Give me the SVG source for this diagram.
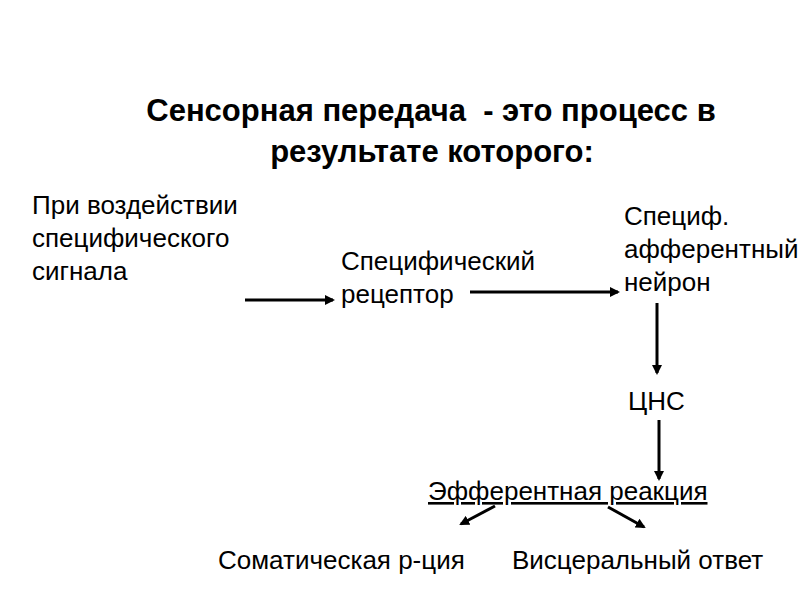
<svg xmlns="http://www.w3.org/2000/svg" width="800" height="600" viewBox="0 0 800 600">
<defs>
<style>
text{font-family:"Liberation Sans",Arial,sans-serif;fill:#000}
.t{font-size:31px;font-weight:bold}
.n{font-size:26px}
.c{stroke:#000;stroke-width:3;fill:none}
</style>
<marker id="ah" markerWidth="10" markerHeight="10" refX="8" refY="5" orient="auto" markerUnits="userSpaceOnUse">
<path d="M0,0 L10,5 L0,10 Z" fill="#000"/>
</marker>
</defs>
<rect width="800" height="600" fill="#fff"/>
<g id="title">
<text class="t" x="431" y="121" text-anchor="middle" xml:space="preserve">Сенсорная передача  - это процесс в</text>
<text class="t" x="432" y="162" text-anchor="middle">результате которого:</text>
</g>
<g id="signal">
<text class="n" x="32" y="214">При воздействии</text>
<text class="n" x="32" y="247">специфического</text>
<text class="n" x="32" y="280">сигнала</text>
</g>
<g id="receptor">
<text class="n" x="341" y="270">Специфический</text>
<text class="n" x="341" y="303">рецептор</text>
</g>
<g id="neuron">
<text class="n" x="624" y="225">Специф.</text>
<text class="n" x="624" y="258">афферентный</text>
<text class="n" x="624" y="291">нейрон</text>
</g>
<g id="cns">
<text class="n" x="628" y="410">ЦНС</text>
</g>
<g id="efferent">
<text class="n" x="428" y="500" text-decoration="underline">Эфферентная реакция</text>
</g>
<g id="somatic">
<text class="n" x="218" y="569">Соматическая р-ция</text>
</g>
<g id="visceral">
<text class="n" x="512" y="569">Висцеральный ответ</text>
</g>
<g id="connectors">
<line class="c" x1="245" y1="300" x2="333" y2="300" marker-end="url(#ah)"/>
<line class="c" x1="470" y1="292" x2="618" y2="292" marker-end="url(#ah)"/>
<line class="c" x1="657" y1="303" x2="657" y2="373" marker-end="url(#ah)"/>
<line class="c" x1="659" y1="420" x2="659" y2="479" marker-end="url(#ah)"/>
<line class="c" x1="495" y1="506" x2="461" y2="524" marker-end="url(#ah)"/>
<line class="c" x1="608" y1="507" x2="644" y2="527" marker-end="url(#ah)"/>
</g>
</svg>
